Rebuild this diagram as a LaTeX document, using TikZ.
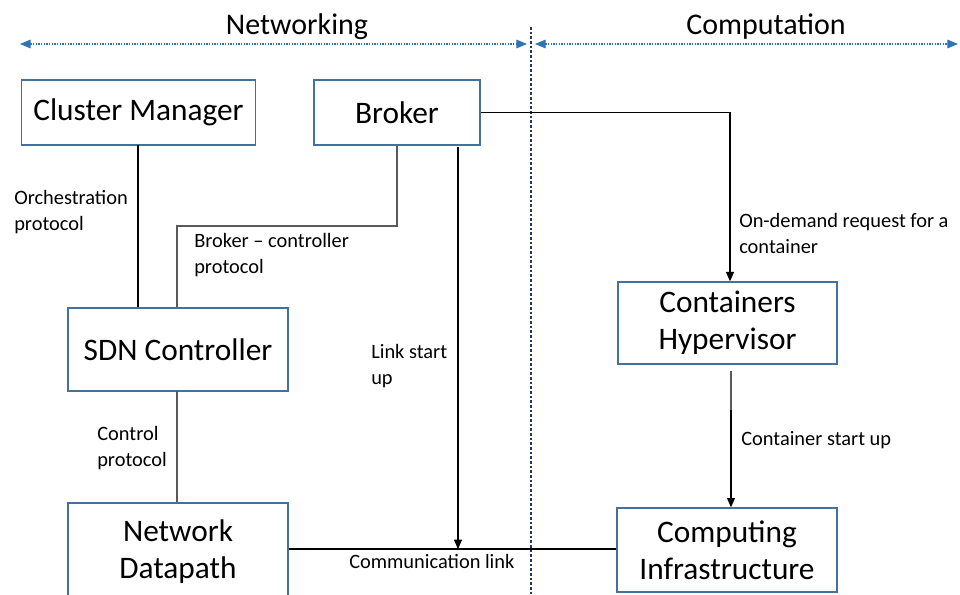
\documentclass[tikz,border=0pt]{standalone}
\usepackage{fontspec}
\setmainfont{Carlito}
\usetikzlibrary{arrows.meta}
\definecolor{boxblue}{RGB}{65,113,156}
\definecolor{spanblue}{RGB}{46,117,182}
\definecolor{navy}{RGB}{32,56,100}
\definecolor{linkgray}{RGB}{89,89,89}
\begin{document}
\begin{tikzpicture}[x=0.75pt,y=-0.75pt,
  block/.style 2 args={draw=boxblue,line width=1pt,rectangle,inner sep=0pt,
    minimum width=#1*0.75pt,minimum height=#2*0.75pt,align=center,
    font=\fontsize{23.5}{28}\selectfont},
  lbl/.style={anchor=base west,inner sep=0pt,align=left,
    font=\fontsize{15.3}{19.5}\selectfont},
  head/.style={inner sep=0pt,font=\fontsize{22.5}{26}\selectfont},
  conn/.style={draw=black,line width=0.9pt},
  arr/.style={conn,-{Triangle[length=7pt,width=6pt]}},
  span/.style={draw=spanblue,line width=0.8pt,dash pattern=on 1pt off 1pt,
    {Triangle[length=8pt,width=6.5pt]}-{Triangle[length=8pt,width=6.5pt]}},
]
\useasboundingbox (0,0) rectangle (960,595);
\begin{scope}
\clip (0,0) rectangle (960,595);

% section headings and extent arrows
\node[head] (net) at (297,27) {Networking};
\node[head] (comp) at (766,27) {Computation};
\coordinate (netL) at (20,44);
\coordinate (netR) at (527,44);
\coordinate (compL) at (535,44);
\coordinate (compR) at (958,44);
\draw[span] (netL) -- (netR);
\draw[span] (compL) -- (compR);

% divider between the two domains
\coordinate (divT) at (531,27);
\coordinate (divB) at (531,600);
\draw[navy,line width=0.8pt,dash pattern=on 2pt off 1.5pt] (divT) -- (divB);

% components
\node[block={234}{65}] (cm) at (138.5,112.5) {Cluster Manager};
\node[block={166}{65}] (br) at (397,112.5) {Broker};
\node[block={220}{83}] (sdn) at (178,349.5) {SDN Controller};
\node[block={220}{97}] (nd) at (178,551.5) {Network\\Datapath};
\node[block={219}{82}] (ch) at (727.5,323) {Containers\\Hypervisor};
\node[block={220}{84}] (ci) at (727,550) {Computing\\Infrastructure};

% connectors
\coordinate (cmDown) at (138,145);
\draw[conn] (cmDown) -- (cmDown |- sdn.north);

\coordinate (bcBend) at (177,226);
\draw[draw=linkgray,line width=1.1pt] (br.south) |- (bcBend) -- (bcBend |- sdn.north);

\coordinate (ctlCol) at (177,391);
\draw[draw=linkgray,line width=1.1pt] (ctlCol) -- (ctlCol |- nd.north);

\coordinate (lsTop) at (458,147);
\coordinate (lsEnd) at (458,549);
\draw[arr] (lsTop) -- (lsEnd);

\coordinate (clL) at (nd.east |- lsEnd);
\draw[conn] (clL) -- (clL -| ci.west);

\coordinate (reqCol) at (730,112.5);
\draw[arr] (br.east) -- (reqCol) -- (reqCol |- ch.north);

\coordinate (csTop) at (731,371);
\coordinate (csMid) at (731,410);
\draw[draw=linkgray,line width=0.9pt] (csTop) -- (csMid);
\draw[arr] (csMid) -- (csTop |- ci.north);

% connector labels (anchored on the baseline of their last line)
\node[lbl] (lOrch) at (14,231) {Orchestration\\protocol};
\node[lbl] (lBC) at (194,274) {Broker – controller\\protocol};
\node[lbl] (lReq) at (739,254) {On-demand request for a\\container};
\node[lbl] (lLink) at (371,384) {Link start\\up};
\node[lbl] (lCtrl) at (97,466) {Control\\protocol};
\node[lbl] (lCS) at (741,445) {Container start up};
\node[lbl] (lCL) at (349,568) {Communication link};
\end{scope}
\end{tikzpicture}
\end{document}
